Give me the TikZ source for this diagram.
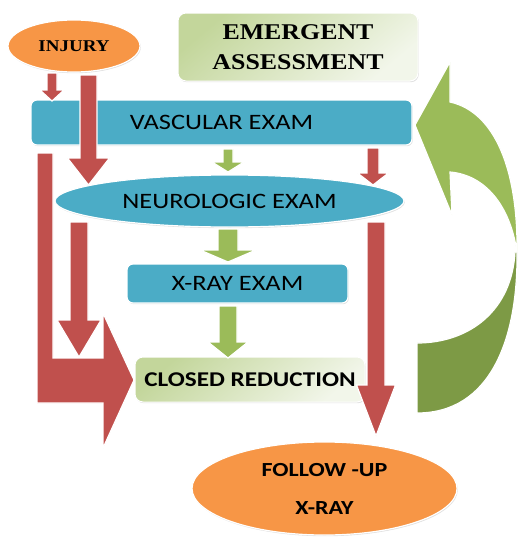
\documentclass[tikz,border=0pt]{standalone}
\usepackage{fontspec}
\usetikzlibrary{calc,shapes.geometric,shadows}
\newfontfamily\boxfont[FakeStretch=1.2]{Carlito}
\newfontfamily\headfont[FakeStretch=1.15]{Liberation Serif}
\definecolor{injuryorange}{HTML}{F79646}
\definecolor{exblue}{HTML}{4BACC6}
\definecolor{flowred}{HTML}{C0504D}
\definecolor{flowgreen}{HTML}{9BBB59}
\definecolor{loopdark}{HTML}{7D9A45}
\definecolor{paletop}{HTML}{C3D69B}
\definecolor{palebottom}{HTML}{F2F6EA}
\tikzset{
  soft/.style={drop shadow={shadow xshift=0.8pt, shadow yshift=-1.2pt, opacity=0.25}},
  oval/.style={ellipse, draw=white, line width=1.2pt, inner sep=0pt, fill=#1, soft},
  exambox/.style={rectangle, rounded corners=6pt, draw=white, line width=1.2pt, inner sep=0pt, fill=exblue, soft},
  palebox/.style={rectangle, rounded corners=8pt, draw=white, line width=1pt, inner sep=0pt,
    top color=paletop, bottom color=palebottom, shading angle=40, soft},
  examtext/.style={font=\boxfont\fontsize{22}{26}\selectfont},
  redflow/.style={fill=flowred, draw=white, line width=1.2pt},
  greenflow/.style={fill=flowgreen, draw=white, line width=1.2pt},
}
% #1 style, #2 start, #3 tip, #4 half shaft, #5 half head, #6 head length
\newcommand\flowarrow[6]{%
  \filldraw[#1] ($(#2)+(-#4,0)$) -- ($(#2)+(#4,0)$) -- ($(#3)+(#4,-#6)$) -- ($(#3)+(#5,-#6)$)
    -- (#3) -- ($(#3)+(-#5,-#6)$) -- ($(#3)+(-#4,-#6)$) -- cycle;}
\begin{document}
\begin{tikzpicture}[x=1pt,y=-1pt]
  \useasboundingbox (0,0) rectangle (518,541);
  \draw
    (74,46) node[oval=injuryorange, minimum width=132pt, minimum height=52pt,
      font=\headfont\bfseries\fontsize{16.5}{20}\selectfont] (injury){INJURY}
    (298,47) node[palebox, minimum width=240pt, minimum height=68pt, align=center,
      font=\headfont\bfseries\fontsize{22.5}{30}\selectfont] (emergent){EMERGENT\\ASSESSMENT}
    (221.5,122.5) node[exambox, examtext, minimum width=381pt, minimum height=45pt] (vascular){VASCULAR EXAM}
    (229.5,201) node[oval=exblue, examtext, minimum width=349pt, minimum height=52pt] (neuro){NEUROLOGIC EXAM}
    (237.5,283.5) node[exambox, examtext, minimum width=221pt, minimum height=39pt] (xray){X-RAY EXAM}
    (250,379.5) node[palebox, minimum width=230pt, minimum height=45pt,
      font=\boxfont\bfseries\fontsize{21}{26}\selectfont] (closed){CLOSED REDUCTION}
    (324.5,488.5) node[oval=injuryorange, minimum width=265pt, minimum height=93pt, align=center,
      font=\boxfont\bfseries\fontsize{20}{38}\selectfont] (follow){FOLLOW -UP\\X-RAY};
  \coordinate (a1s) at (52,73);    \coordinate (a1t) at (52,101);
  \coordinate (a2s) at (88.5,75);  \coordinate (a2t) at (88.5,185);
  \coordinate (a4s) at (79,222);   \coordinate (a4t) at (79,357);
  \coordinate (a5s) at (373,148);  \coordinate (a5t) at (373,185);
  \coordinate (a6s) at (376,222);  \coordinate (a6t) at (376,436);
  \coordinate (ls) at (45,153);    \coordinate (lt) at (134,380);
  \coordinate (g1s) at (228,149);  \coordinate (g1t) at (228,172);
  \coordinate (g2s) at (228,229);  \coordinate (g2t) at (228,262);
  \coordinate (g3s) at (228,306);  \coordinate (g3t) at (228,358);
  \begin{scope}
    \flowarrow{redflow}{a1s}{a1t}{5}{12}{11}
    \flowarrow{redflow}{a2s}{a2t}{8.5}{21}{27}
    \filldraw[redflow] ($(ls)+(-8,0)$) -- ($(ls)+(8,0)$) |- ($(lt)+(-31,-22)$) -- ($(lt)+(-31,-67)$)
      -- (lt) -- ($(lt)+(-31,68)$) -- ($(lt)+(-31,23)$) -| ($(ls)+(-8,0)$) -- cycle;
    \flowarrow{redflow}{a4s}{a4t}{9}{22}{37}
    \flowarrow{redflow}{a5s}{a5t}{6}{15.5}{12}
    \flowarrow{redflow}{a6s}{a6t}{9}{19.5}{51}
  \end{scope}
  \begin{scope}
    \flowarrow{greenflow}{g1s}{g1t}{5}{16}{10}
    \flowarrow{greenflow}{g2s}{g2t}{10}{28}{12}
    \flowarrow{greenflow}{g3s}{g3t}{9}{20}{16}
    \filldraw[greenflow] (415,125) -- (450,62) -- (450,102) .. controls (495,112) and (518,170) .. (517,252)
      .. controls (510,205) and (485,175) .. (450,172) -- (452,215) -- cycle;
    \filldraw[greenflow, fill=loopdark] (517,252) .. controls (518,340) and (490,413) .. (417,413)
      -- (417,343) .. controls (470,343) and (512,310) .. (515,252) -- cycle;
  \end{scope}
\end{tikzpicture}
\end{document}
